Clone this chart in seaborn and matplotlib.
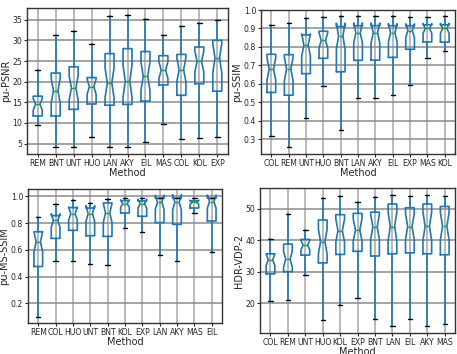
import numpy as np
import seaborn as sns
from matplotlib import pyplot as plt

# five-number summaries: low whisker, Q1, median, Q3, high whisker
psnr_methods = ["REM", "BNT", "UNT", "HUO", "LAN", "AKY", "EIL", "MAS", "COL", "KOL", "EXP"]
psnr_lo  = [9.5, 4.2, 4.3, 6.5, 4.1, 4.1, 5.3, 9.8, 6.2, 6.3, 6.5]
psnr_q1  = [11.7, 11.7, 13.3, 14.6, 14.3, 14.5, 15.3, 19.2, 16.7, 19.5, 17.7]
psnr_med = [14.5, 17.8, 18.5, 18.8, 19.7, 20.1, 21.3, 22.8, 22.9, 24.9, 25.7]
psnr_q3  = [16.5, 22.1, 23.6, 21.0, 26.8, 28.0, 27.3, 26.3, 26.6, 28.4, 30.0]
psnr_hi  = [22.8, 31.4, 32.3, 29.2, 35.8, 36.2, 35.1, 31.3, 33.6, 34.2, 35.0]

ssim_methods = ["COL", "REM", "UNT", "HUO", "BNT", "LAN", "AKY", "EIL", "EXP", "MAS", "KOL"]
ssim_lo  = [0.315, 0.255, 0.415, 0.590, 0.347, 0.522, 0.522, 0.538, 0.593, 0.740, 0.777]
ssim_q1  = [0.553, 0.538, 0.655, 0.738, 0.665, 0.727, 0.728, 0.743, 0.787, 0.827, 0.826]
ssim_med = [0.680, 0.680, 0.810, 0.835, 0.858, 0.876, 0.876, 0.876, 0.888, 0.900, 0.900]
ssim_q3  = [0.760, 0.758, 0.865, 0.885, 0.910, 0.915, 0.915, 0.915, 0.915, 0.920, 0.920]
ssim_hi  = [0.920, 0.928, 0.955, 0.962, 0.965, 0.965, 0.965, 0.965, 0.962, 0.962, 0.965]

msssim_methods = ["REM", "COL", "HUO", "UNT", "BNT", "KOL", "EXP", "LAN", "AKY", "MAS", "EIL"]
msssim_lo  = [0.100, 0.515, 0.520, 0.495, 0.485, 0.765, 0.730, 0.562, 0.520, 0.875, 0.585]
msssim_q1  = [0.475, 0.685, 0.745, 0.705, 0.700, 0.875, 0.850, 0.803, 0.790, 0.912, 0.815]
msssim_med = [0.660, 0.820, 0.870, 0.870, 0.875, 0.945, 0.945, 0.955, 0.955, 0.955, 0.960]
msssim_q3  = [0.735, 0.855, 0.915, 0.912, 0.950, 0.968, 0.965, 0.985, 0.985, 0.965, 0.985]
msssim_hi  = [0.845, 0.940, 0.970, 0.950, 0.980, 0.990, 0.990, 0.990, 0.990, 0.990, 0.990]

vdp_methods = ["COL", "REM", "UNT", "HUO", "KOL", "EXP", "BNT", "LAN", "EIL", "AKY", "MAS"]
vdp_lo  = [20.6, 21.0, 28.9, 14.7, 19.5, 21.7, 15.0, 12.6, 14.8, 12.6, 13.4]
vdp_q1  = [29.3, 30.0, 35.3, 32.8, 35.5, 36.5, 35.0, 35.7, 36.0, 35.7, 35.4]
vdp_med = [33.8, 34.0, 38.5, 39.6, 43.1, 43.3, 44.3, 44.4, 44.4, 44.5, 44.5]
vdp_q3  = [35.7, 38.8, 40.3, 46.5, 48.2, 48.6, 49.0, 51.6, 50.4, 51.6, 50.8]
vdp_hi  = [40.5, 48.3, 43.3, 53.5, 54.0, 52.3, 53.8, 54.5, 54.0, 54.4, 54.0]

n_images = 30  # assumed sample size for the notch width


def make_stats(lo, q1, med, q3, hi):
    stats = []
    for a, b, c, d, e in zip(lo, q1, med, q3, hi):
        half = 1.57 * (d - b) / np.sqrt(n_images)
        stats.append(dict(whislo=a, q1=b, med=c, q3=d, whishi=e,
                          cilo=c - half, cihi=c + half, fliers=[]))
    return stats


sns.set_style("ticks")
plt.rcParams['font.family'] = ['DejaVu Sans']

fig = plt.figure(figsize=(4.57, 3.54), dpi=100)
rects = [[0.059, 0.565, 0.440, 0.412],
         [0.571, 0.565, 0.425, 0.407],
         [0.061, 0.088, 0.425, 0.379],
         [0.569, 0.060, 0.427, 0.408]]
panels = [(psnr_methods, make_stats(psnr_lo, psnr_q1, psnr_med, psnr_q3, psnr_hi), "pu-PSNR"),
          (ssim_methods, make_stats(ssim_lo, ssim_q1, ssim_med, ssim_q3, ssim_hi), "pu-SSIM"),
          (msssim_methods, make_stats(msssim_lo, msssim_q1, msssim_med, msssim_q3, msssim_hi), "pu-MS-SSIM"),
          (vdp_methods, make_stats(vdp_lo, vdp_q1, vdp_med, vdp_q3, vdp_hi), "HDR-VDP-2")]

blue = "#1f77b4"
for rect, (names, stats, ylab) in zip(rects, panels):
    ax = fig.add_axes(rect)
    ax.bxp(stats, positions=range(1, len(names) + 1), shownotches=True, showfliers=False,
           widths=0.5, manage_ticks=False,
           boxprops=dict(color=blue, linewidth=1.2, zorder=3),
           whiskerprops=dict(color=blue, linewidth=1.2, zorder=3),
           capprops=dict(color="black", linewidth=1.0, zorder=3),
           medianprops=dict(color="#2ca02c", linewidth=1.0, zorder=3))
    ax.set_xticks(range(1, len(names) + 1))
    ax.set_xticklabels(names)
    ax.set_xlim(0.4, len(names) + 0.6)
    ax.tick_params(labelsize=5.6, length=2.5, pad=1)
    ax.set_xlabel("Method", fontsize=7, labelpad=0)
    ax.set_ylabel(ylab, fontsize=7, labelpad=1)
    for sp in ax.spines.values():
        sp.set_color("#333333")
        sp.set_linewidth(1.0)
    # grid at the axis' own tick locations
    ax.set_axisbelow(True)
    ax.yaxis.grid(True, color="#8c8c8c", linewidth=1.1, alpha=1.0)
    ax.xaxis.grid(True, color="#b4b4b4", linewidth=1.3, alpha=1.0)

fig.savefig("out.png", dpi=100)
